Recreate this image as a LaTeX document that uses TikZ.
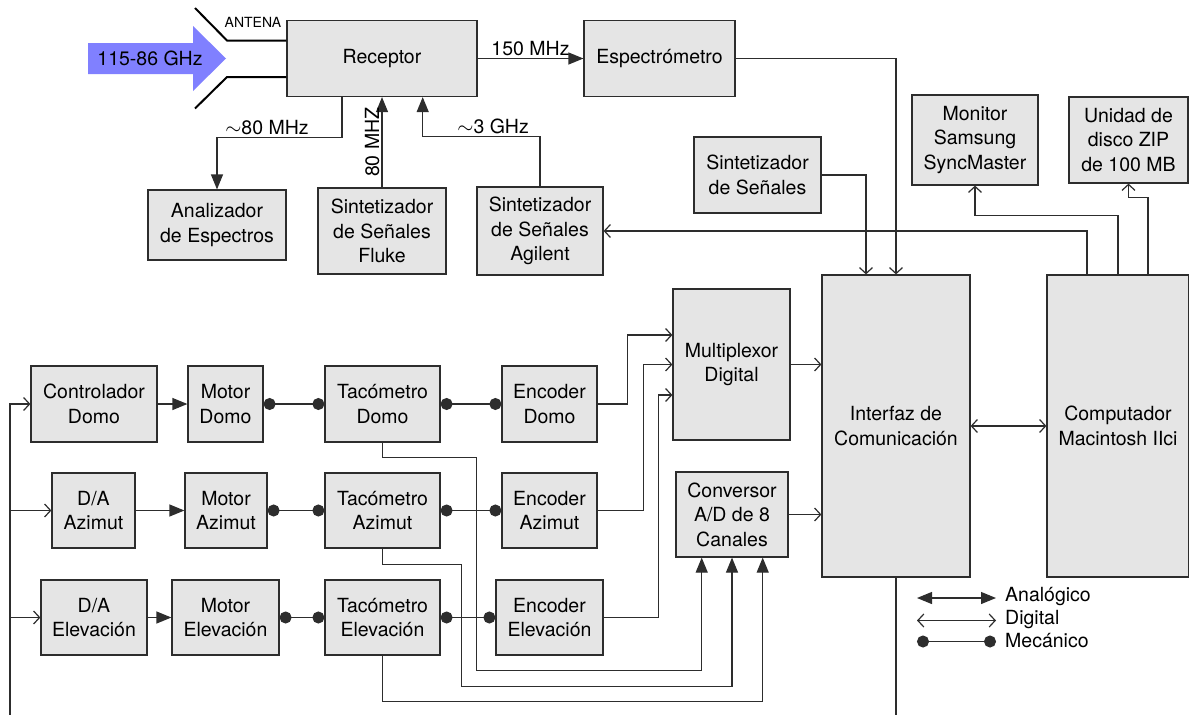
\documentclass[tikz,border=0pt]{standalone}
\usepackage{fontspec}
\setmainfont{TeX Gyre Heros}
\usetikzlibrary{arrows.meta,calc}
\definecolor{linec}{RGB}{45,45,45}
\definecolor{boxc}{RGB}{229,229,229}
\definecolor{beam}{RGB}{128,128,255}
\newcommand\blockfont{\fontsize{19.5}{24.5}\selectfont}
\newcommand\tinyfont{\fontsize{14}{16}\selectfont}
\begin{document}
\begin{tikzpicture}[x=1pt,y=-1pt,
  blk/.style={draw=linec,fill=boxc,line width=1.2pt,align=center,inner sep=0pt,font=\blockfont},
  wire/.style={draw=linec,line width=1.2pt},
  ana/.style={wire,-{Triangle[length=15pt,width=12pt]}},
  anaboth/.style={wire,{Triangle[length=15pt,width=12pt]}-{Triangle[length=15pt,width=12pt]}},
  dig/.style={wire,-{Straight Barb[length=6pt,width=13pt]}},
  digboth/.style={wire,{Straight Barb[length=6pt,width=13pt]}-{Straight Barb[length=6pt,width=13pt]}},
  mech/.style={wire,{Circle[length=12pt]}-{Circle[length=12pt]}},
  lbl/.style={font=\blockfont,inner sep=2pt}]
\useasboundingbox (0,0) rectangle (1189,715);

% incoming beam
\fill[beam] (88,43) -- (193,43) -- (193,26) -- (226,58.5) -- (193,91) -- (193,74) -- (88,74) -- cycle;
\node[font=\blockfont] (beamtext) at (150,58.5) {115-86 GHz};

% receiver chain
\node[blk,minimum width=190pt,minimum height=76pt] (recep) at (382,58.5) {Receptor};
\node[blk,minimum width=151pt,minimum height=76pt] (espec) at (659.5,58.5) {Espectrómetro};
\node[blk,minimum width=138pt,minimum height=70pt] (anal) at (217,225) {Analizador\\de Espectros};
\node[blk,minimum width=128pt,minimum height=86pt] (fluke) at (382,231) {Sintetizador\\de Señales\\Fluke};
\node[blk,minimum width=126pt,minimum height=88pt] (agil) at (540,231) {Sintetizador\\de Señales\\Agilent};
\node[blk,minimum width=127pt,minimum height=76pt] (sint) at (757.5,175) {Sintetizador\\de Señales};

% antenna horn
\draw[black,line width=2pt] (195,8) -- (227,40.5) -- ([yshift=18pt]recep.west);
\draw[black,line width=2pt] (195,108.5) -- (227,77) -- ([yshift=-18.5pt]recep.west);
\node[font=\tinyfont,inner sep=0pt] (antlabel) at (253,22) {ANTENA};

% computer side
\node[blk,minimum width=148pt,minimum height=302pt] (interf) at (896,426) {Interfaz de\\Comunicación};
\node[blk,minimum width=142pt,minimum height=302pt] (comp) at (1118,426) {Computador\\Macintosh IIci};
\node[blk,minimum width=126pt,minimum height=90pt] (monit) at (975,140) {Monitor\\Samsung\\SyncMaster};
\node[blk,minimum width=119pt,minimum height=86pt] (zip) at (1128.5,140) {Unidad de\\disco ZIP\\de 100 MB};

% acquisition
\node[blk,minimum width=117pt,minimum height=151pt] (mux) at (731.5,364.5) {Multiplexor\\Digital};
\node[blk,minimum width=112pt,minimum height=85pt] (conv) at (732,514.5) {Conversor\\A/D de 8\\Canales};

% dome row
\node[blk,minimum width=126pt,minimum height=76pt] (ctrlD) at (94,404) {Controlador\\Domo};
\node[blk,minimum width=75pt,minimum height=76pt] (motD) at (225.5,404) {Motor\\Domo};
\node[blk,minimum width=115pt,minimum height=76pt] (tacD) at (382.5,404) {Tacómetro\\Domo};
\node[blk,minimum width=95pt,minimum height=76pt] (encD) at (549.5,404) {Encoder\\Domo};

% azimuth row
\node[blk,minimum width=83pt,minimum height=75pt] (daA) at (93.5,510.5) {D/A\\Azimut};
\node[blk,minimum width=82pt,minimum height=75pt] (motA) at (226,510.5) {Motor\\Azimut};
\node[blk,minimum width=115pt,minimum height=75pt] (tacA) at (382.5,510.5) {Tacómetro\\Azimut};
\node[blk,minimum width=95pt,minimum height=75pt] (encA) at (549.5,510.5) {Encoder\\Azimut};

% elevation row
\node[blk,minimum width=106pt,minimum height=75pt] (daE) at (94,617.5) {D/A\\Elevación};
\node[blk,minimum width=107pt,minimum height=75pt] (motE) at (225.5,617.5) {Motor\\Elevación};
\node[blk,minimum width=115pt,minimum height=75pt] (tacE) at (382.5,617.5) {Tacómetro\\Elevación};
\node[blk,minimum width=107pt,minimum height=75pt] (encE) at (549.5,617.5) {Encoder\\Elevación};

% receiver connections
\draw[ana] (recep.east) -- node[lbl,above] {150 MHz} (espec.west);
\draw[ana] ([xshift=-40pt]recep.south) -- ++(0,40) -| node[lbl,pos=0.3,above] {$\sim$80 MHz} (anal.north);
\draw[ana] (fluke.north) -- node[lbl,anchor=south,rotate=90] {80 MHZ} (recep.south);
\draw[ana] (agil.north) -- ++(0,-50) -| node[lbl,pos=0.2,above] {$\sim$3 GHz} ([xshift=40.7pt]recep.south);
\draw[dig] (espec.east) -| (interf.north);
\draw[dig] (sint.east) -| ([xshift=-30pt]interf.north);

% computer connections
\draw[dig] ([xshift=-31pt]comp.north) |- (agil.east);
\draw[dig] (comp.north) -- ++(0,-59) -| (monit.south);
\draw[dig] ([xshift=30pt]comp.north) -- ++(0,-77) -| (zip.south);
\draw[digboth] (interf.east) -- (comp.west);
\coordinate (busR) at (896,717);
\draw[wire] (interf.south) -- (busR);

% acquisition connections
\draw[dig] (mux.east) -- (mux.east -| interf.west);
\draw[dig] (conv.east) -- (conv.east -| interf.west);
\draw[dig] (encD.east) -- ++(30,0) |- ([yshift=29.5pt]mux.west);
\draw[dig] (encA.east) -- ++(45.5,0) |- (mux.west);
\draw[dig] (encE.east) -- ++(54.5,0) |- ([yshift=-30.5pt]mux.west);
\draw[ana] (tacD.south) -- ++(0,14.5) -- ++(94.2,0) -- ++(0,213.5) -| ([xshift=-30.3pt]conv.south);
\draw[ana] (tacA.south) -- ++(0,16) -- ++(79.2,0) -- ++(0,122) -| (conv.south);
\draw[ana] (tacE.south) -- ++(0,45.7) -| ([xshift=30.7pt]conv.south);

% drive chains
\draw[ana] (ctrlD.east) -- (motD.west);
\draw[ana] (daA.east) -- (motA.west);
\draw[ana] (daE.east) -- (motE.west);
\draw[mech] (motD.east) -- (tacD.west);
\draw[mech] (tacD.east) -- (encD.west);
\draw[mech] (motA.east) -- (tacA.west);
\draw[mech] (tacA.east) -- (encA.west);
\draw[mech] (motE.east) -- (tacE.west);
\draw[mech] (tacE.east) -- (encE.west);

% command bus
\coordinate (busL) at (10,717);
\draw[dig] (busL) |- (ctrlD.west);
\draw[dig] (busL) |- (daA.west);
\draw[dig] (busL) |- (daE.west);

% legend
\coordinate (la1) at (917,598);  \coordinate (la2) at (996,598);
\coordinate (ld1) at (917,620.5); \coordinate (ld2) at (996,620.5);
\coordinate (lm1) at (917,641.5); \coordinate (lm2) at (996,641.5);
\draw[anaboth] (la1) -- (la2);
\draw[digboth] (ld1) -- (ld2);
\draw[mech] (lm1) -- (lm2);
\node[lbl,anchor=west,inner sep=0pt] (tla) at (1005,597) {Analógico};
\node[lbl,anchor=west,inner sep=0pt] (tld) at (1005,619.5) {Digital};
\node[lbl,anchor=west,inner sep=0pt] (tlm) at (1005,640.5) {Mecánico};
\end{tikzpicture}
\end{document}
